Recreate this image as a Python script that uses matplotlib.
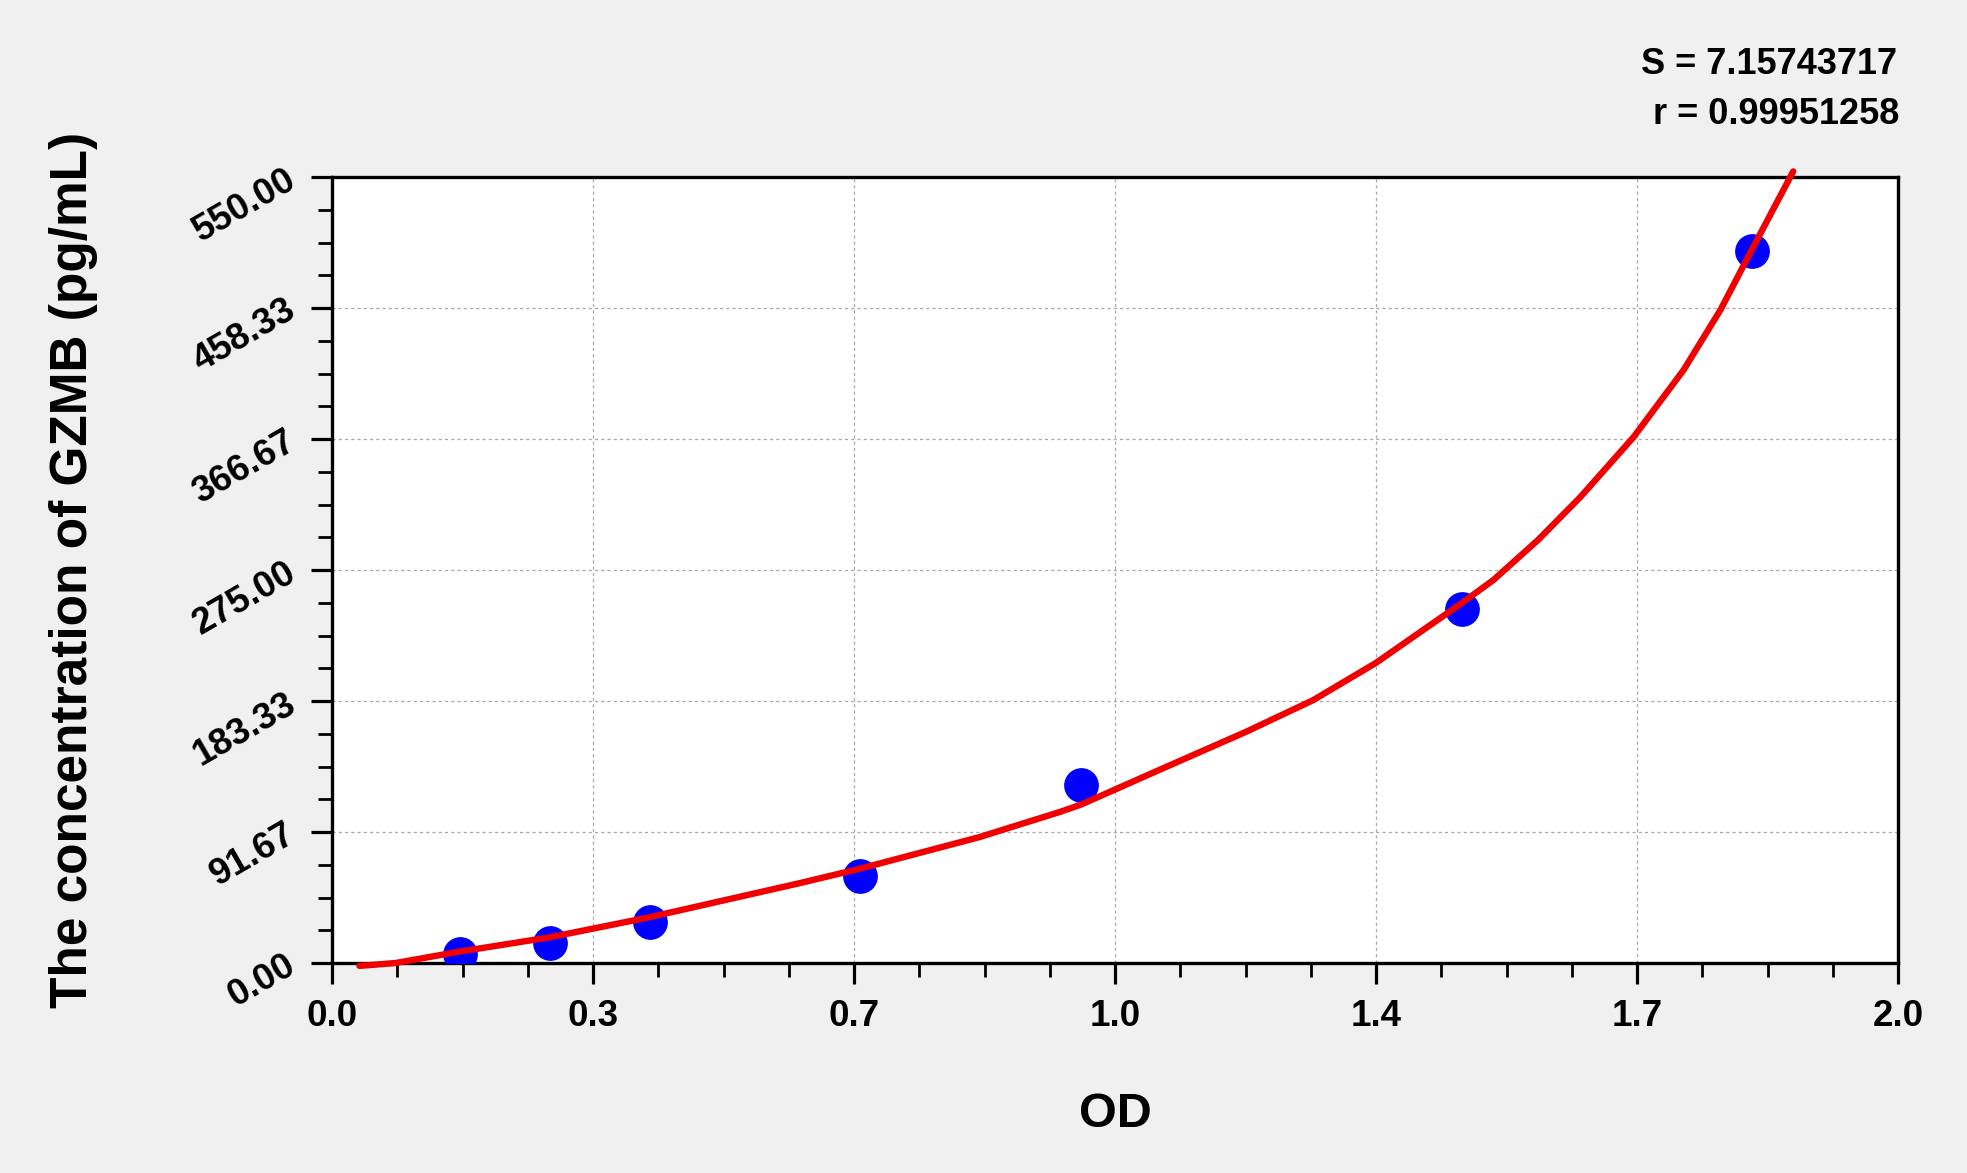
import numpy as np
import matplotlib
matplotlib.use('Agg')
import matplotlib.pyplot as plt
from matplotlib.ticker import FixedLocator, MultipleLocator

plt.rcParams['font.family'] = ['Liberation Sans', 'DejaVu Sans']
plt.rcParams['font.weight'] = 'bold'

# standards (OD vs concentration)
od = [0.1635, 0.278, 0.4055, 0.674, 0.957, 1.443, 1.813]
conc = [6.3, 13.8, 28.9, 60.9, 124.6, 247.7, 498.2]

# fitted curve
curve_od = [0.035, 0.081, 0.163, 0.278, 0.405, 0.598, 0.674, 0.826, 0.931,
            0.957, 1.060, 1.168, 1.253, 1.333, 1.443, 1.483, 1.540, 1.594,
            1.662, 1.726, 1.773, 1.813, 1.866]
curve_conc = [-2, 0, 8, 18, 32, 56, 66, 88, 106, 111, 136, 162, 184, 210,
              252, 268, 296, 326, 368, 415, 457, 499, 554]

x_ticks = [0, 1/3, 2/3, 1, 4/3, 5/3, 2]
x_labels = ['0.0', '0.3', '0.7', '1.0', '1.4', '1.7', '2.0']
y_ticks = [0, 550/6, 1100/6, 275, 2200/6, 2750/6, 550]
y_labels = ['0.00', '91.67', '183.33', '275.00', '366.67', '458.33', '550.00']

fig = plt.figure(figsize=(19.67, 11.73), dpi=100, facecolor='#f0f0f0')
ax = fig.add_axes([0.1688, 0.179, 0.7962, 0.670])
ax.set_facecolor('white')

ax.plot(od, conc, 'o', color='#0000ff', markersize=24, zorder=3)
ax.plot(curve_od, curve_conc, '-', color='#f00000', linewidth=4.6,
        zorder=4, clip_on=False, solid_capstyle='round', solid_joinstyle='round')

ax.set_xlim(0, 2)
ax.set_ylim(0, 550)
ax.xaxis.set_major_locator(FixedLocator(x_ticks))
ax.set_xticklabels(x_labels)
ax.xaxis.set_minor_locator(MultipleLocator(1/12))
ax.yaxis.set_major_locator(FixedLocator(y_ticks))
ax.set_yticklabels(y_labels, rotation=30, ha='right', va='center',
                   rotation_mode='anchor')
ax.yaxis.set_minor_locator(MultipleLocator(550/24))

ax.tick_params(which='major', length=15, width=2.3, labelsize=26.5, pad=11, colors='black')
ax.tick_params(which='minor', length=10, width=2.0)
ax.tick_params(axis='y', which='major', pad=13)
for lab in ax.get_xticklabels() + ax.get_yticklabels():
    lab.set_fontweight('bold')

for s in ax.spines.values():
    s.set_linewidth(2.4)

ax.grid(True, which='major', color='#a8a8a8', linestyle=(0, (2.5, 2.5)), linewidth=0.9)

ax.set_xlabel('OD', fontsize=35, fontweight='bold', labelpad=42)
ax.set_ylabel('The concentration of GZMB (pg/mL)', fontsize=37,
              fontweight='bold', labelpad=64)

fig.text(0.9645, 0.945, 'S = 7.15743717', ha='right', va='center',
         fontsize=26, fontweight='bold')
fig.text(0.9655, 0.902, 'r = 0.99951258', ha='right', va='center',
         fontsize=26, fontweight='bold')

fig.savefig('out.png', dpi=100, facecolor=fig.get_facecolor())
